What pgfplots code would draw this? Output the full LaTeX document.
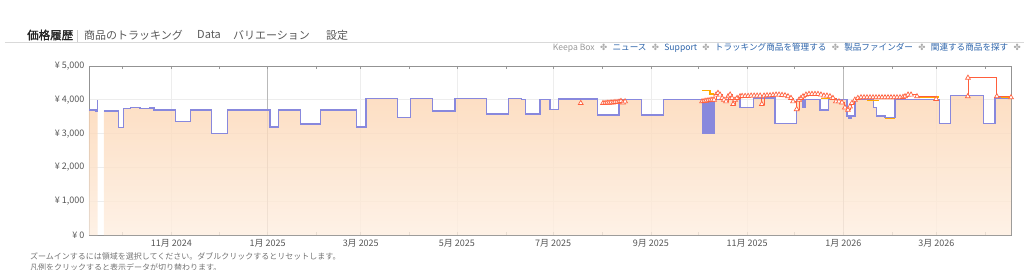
\documentclass[border=0pt]{standalone}
\usepackage{fontspec}
\setmainfont[AutoFakeBold=1.6]{Noto Sans CJK JP}
\newfontfamily\sym{DejaVu Sans}
\usepackage{pgfplots}
\usepackage{pgfplotstable}
\pgfplotsset{compat=1.18}
\definecolor{newc}{RGB}{136,136,221}
\definecolor{fbac}{RGB}{255,95,60}
\definecolor{amzc}{RGB}{255,170,0}
\definecolor{filltop}{RGB}{252,214,180}
\definecolor{fillbot}{RGB}{254,238,224}
\definecolor{txt}{RGB}{85,85,85}
\definecolor{link}{RGB}{45,100,170}

% New price (purple) main series: day (0 = 1 Nov 2024), price
\pgfplotstableread{
d p
-42.8 3670
-33.7 3180
-30.6 3750
-26.0 3770
-20.0 3740
-14.0 3760
-12.0 3780
-11.1 3700
2.7 3350
11.9 3700
25.5 3000
35.6 3700
62.5 3200
67.7 3700
81.9 3280
94.6 3700
117.4 3200
123.3 4040
143.4 3480
151.7 4040
165.4 3670
179.8 4040
199.9 3575
213.6 4040
222.1 4000
224.6 3575
233.7 4000
240.0 3720
245.3 4020
270.0 3550
283.8 4000
298.2 3550
311.9 4000
336.6 4000
344.0 4000
360.5 3770
368.9 4050
382.6 3300
396.4 4000
400.4 3780
401.7 4000
411.2 3700
416.6 4000
428.2 3520
429.7 3450
430.9 3520
433.4 4000
445.0 3770
447.2 3520
452.4 3480
458.8 4000
486.9 3300
494.1 4120
514.8 3300
522.2 4050
532.3 4050
}\newdata

\pgfplotstableread{
d p
336.4 3950
337.7 3960
338.9 3970
340.2 3980
341.5 3990
342.7 4000
344.0 4000
345.3 4150
346.5 4200
347.8 4150
349.1 4050
350.3 4000
351.6 3950
352.9 4100
354.2 4150
355.4 4050
356.1 3870
357.3 4000
358.6 4050
360.5 4100
361.8 4110
363.7 4110
365.6 4110
367.5 4120
369.4 4120
371.3 4120
373.2 4120
374.3 3870
375.7 4120
377.6 4130
379.5 4130
381.4 4140
383.3 4150
385.2 4150
387.1 4140
389.0 4130
390.9 4100
392.8 4050
394.1 3950
396.4 3720
397.9 4000
399.1 4050
400.4 4100
402.3 4150
404.2 4170
406.1 4170
408.0 4170
409.9 4170
411.8 4150
413.7 4120
415.6 4120
417.5 4100
419.4 4050
421.3 3950
423.2 3950
425.1 3920
427.0 3770
428.9 3700
430.2 3800
431.4 3900
433.3 4000
435.2 4050
437.2 4070
439.1 4070
441.0 4070
442.9 4070
444.8 4070
446.7 4070
448.6 4070
450.5 4070
452.4 4070
454.3 4070
456.2 4070
458.1 4070
460.0 4070
461.9 4070
463.8 4080
465.1 4100
467.0 4150
468.9 4150
472.7 4100
484.8 4020
}\fbadata

\newcommand{\sep}{\hspace{5.3pt}\textcolor{gray!65}{\sym ✤}\hspace{5.3pt}}

\begin{document}
\begin{tikzpicture}
\useasboundingbox (-89pt,-35pt) rectangle (935pt,235pt);
% tabs
\draw[gray!30, line width=0.7pt] (-84pt,193pt) -- (935pt,193pt);
\draw[gray!40, line width=0.7pt] (-12pt,193pt) -- (-12pt,205pt);
\node[anchor=west, inner sep=0pt, text=black!85] at (-62pt,200pt) {\fontsize{11.5}{13}\selectfont\bfseries 価格履歴};
\node[anchor=west, inner sep=0pt, text=black!65] at (-5pt,200pt) {\fontsize{11}{13}\selectfont 商品のトラッキング};
\node[anchor=west, inner sep=0pt, text=black!65] at (108pt,200pt) {\fontsize{11}{13}\selectfont Data};
\node[anchor=west, inner sep=0pt, text=black!65] at (144pt,200pt) {\fontsize{11}{13}\selectfont バリエーション};
\node[anchor=west, inner sep=0pt, text=black!65] at (237pt,200pt) {\fontsize{11}{13}\selectfont 設定};
% links
\node[anchor=east, inner sep=0pt] at (932pt,187pt) {\fontsize{8.6}{10}\selectfont
\textcolor{gray!80}{Keepa Box}\sep\textcolor{link}{ニュース}\sep\textcolor{link}{Support}\sep\textcolor{link}{トラッキング商品を管理する}\sep\textcolor{link}{製品ファインダー}\sep\textcolor{link}{関連する商品を探す}\hspace{5.3pt}\textcolor{gray!65}{\sym ✤}};
% notes
\node[anchor=west, inner sep=0pt, text=black!55] at (-59pt,-21pt) {\fontsize{8}{9}\selectfont ズームインするには領域を選択してください。ダブルクリックするとリセットします。};
\node[anchor=west, inner sep=0pt, text=black!55] at (-59pt,-32pt) {\fontsize{8}{9}\selectfont 凡例をクリックすると表示データが切り替わります。};

\begin{axis}[at={(0pt,0pt)}, anchor=south west, scale only axis, width=922pt, height=169pt,
  xmin=-52.3, xmax=532.3, ymin=0, ymax=5000,
  axis line style={draw=gray!85, line width=0.9pt},
  xtick={0,120,181,242,304,365,485},
  xticklabels={11月 2024,3月 2025,5月 2025,7月 2025,9月 2025,11月 2025,3月 2026},
  extra x ticks={61,426},
  extra x tick labels={1月 2025,1月 2026},
  extra x tick style={grid style={gray!55, line width=1pt}},
  minor xtick={-31,30,92,151,212,273,334,395,457,516},
  xmajorgrids, ymajorgrids,
  grid style={gray!14, line width=0.6pt},
  ytick={0,1000,2000,3000,4000,5000},
  yticklabels={{¥ 0},{¥ 1,000},{¥ 2,000},{¥ 3,000},{¥ 4,000},{¥ 5,000}},
  tick label style={font=\fontsize{9}{10}\selectfont, text=txt},
  ytick style={draw=none},
  xtick style={draw=gray!80, line width=0.6pt},
  tick align=inside, major tick length=3pt, minor tick length=3pt,
  xticklabel style={yshift=-1pt},
  yticklabel style={xshift=-1pt},
]
% filled area (gradient)
\addplot[const plot, draw=none, top color=filltop, bottom color=fillbot, fill opacity=0.8]
  coordinates {(-52.3,3700)(-47.9,3650)(-46.8,3650)} \closedcycle;
\addplot[const plot, draw=none, top color=filltop, bottom color=fillbot, fill opacity=0.8]
  table[x=d,y=p] {\newdata} \closedcycle;
% purple New price
\addplot[const plot, draw=newc, line width=1.4pt]
  coordinates {(-52.3,3700)(-47.9,3650)(-47.1,4000)};
\addplot[const plot, draw=newc, line width=1.4pt] table[x=d,y=p] {\newdata};
\addplot[fill=newc, draw=newc, line width=0.6pt]
  coordinates {(336.6,3000)(344.0,3000)(344.0,4000)(336.6,4000)(336.6,3000)};
% Amazon (orange-yellow)
\addplot[const plot, draw=amzc, line width=1.3pt] coordinates {(336.4,4270)(341.5,4170)(344.0,4170)};
\addplot[const plot, draw=amzc, line width=1.3pt] coordinates {(411.8,4030)(417.5,4030)};
\addplot[const plot, draw=amzc, line width=1.3pt] coordinates {(441.0,3980)(448.6,3980)};
\addplot[const plot, draw=amzc, line width=1.3pt] coordinates {(452.4,3440)(458.8,3440)};
\addplot[const plot, draw=amzc, line width=1.3pt] coordinates {(472.7,4085)(486.9,4085)};
\addplot[const plot, draw=amzc, line width=1.3pt] coordinates {(526.0,4060)(532.3,4060)};
% FBA (red with triangles)
\addplot[only marks, mark=triangle*, mark size=2.8pt, mark options={fill=white, draw=fbac, line width=0.7pt}]
  coordinates {(259.5,3900)};
\addplot[const plot, draw=fbac, line width=0.9pt, mark=triangle*, mark size=2.8pt, mark options={fill=white, draw=fbac, line width=0.7pt}]
  coordinates {(273.6,3900)(274.9,3900)(276.2,3910)(277.4,3910)(278.7,3920)(280.0,3920)(281.2,3930)(282.5,3930)(283.8,3940)(285.0,3960)(286.3,3920)(287.6,3950)};
\addplot[const plot, draw=fbac, line width=0.9pt, mark=triangle*, mark size=2.8pt, mark options={fill=white, draw=fbac, line width=0.7pt}]
  table[x=d,y=p] {\fbadata};
\addplot[const plot, draw=fbac, line width=0.9pt, mark=triangle*, mark size=2.8pt, mark options={fill=white, draw=fbac, line width=0.7pt}]
  coordinates {(504.9,4100)(505.0,4650)(523.3,4100)(532.3,4070)};
\end{axis}
\end{tikzpicture}
\end{document}
